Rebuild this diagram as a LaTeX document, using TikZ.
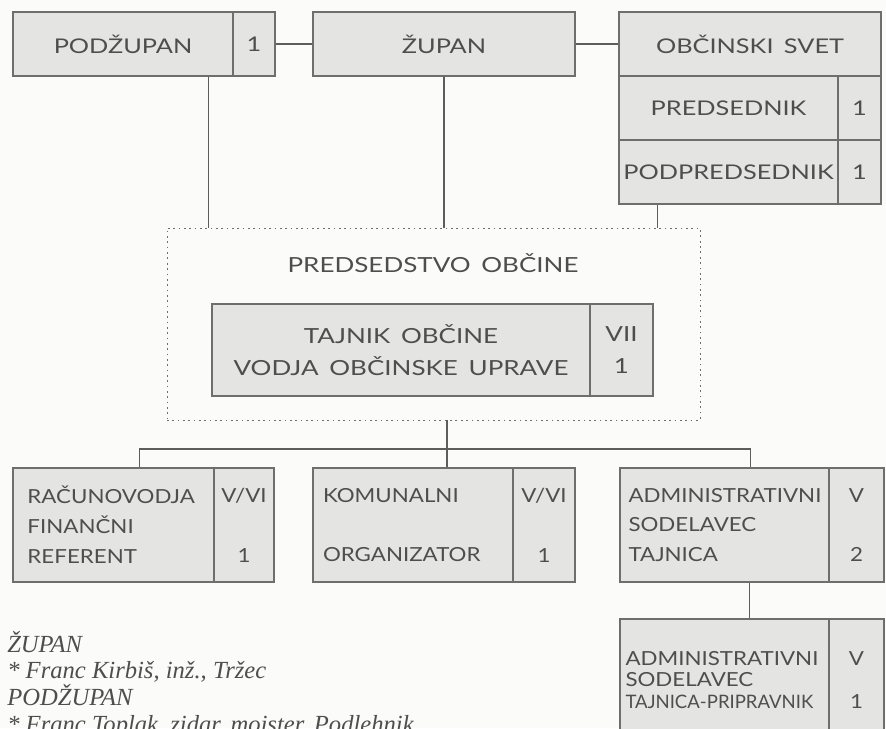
\documentclass[tikz,border=0pt]{standalone}
\usepackage{fontspec}
\setmainfont{Liberation Serif}
\newfontfamily\chartfont[FakeStretch=1.25,WordSpace=1.6]{Lato}
\newfontfamily\unitfont[FakeStretch=1.15]{Lato}
\newfontfamily\narrowfont{Lato}
\usetikzlibrary{positioning,calc}
\definecolor{boxgray}{HTML}{E4E4E2}
\definecolor{linegray}{HTML}{6E6E6E}
\definecolor{inkgray}{HTML}{4E4E4E}
\definecolor{paper}{HTML}{FBFBFA}
\tikzset{
namebox/.style={rectangle, draw=linegray, fill=boxgray, line width=0.8pt, inner sep=0pt, text=inkgray, font=\chartfont\fontsize{14.4}{21.3}\selectfont, minimum height=1.6cm},
numbox/.style={namebox},
unitbox/.style={namebox, text width=#1, align=left, minimum height=2.85cm, font=\unitfont\fontsize{13.8}{21.3}\selectfont},
unitnum/.style={namebox, minimum height=2.85cm, font=\unitfont\fontsize{13.8}{21.3}\selectfont},
dotbox/.style={rectangle, draw=linegray, line width=0.6pt, dash pattern=on 1.2pt off 2.6pt},
link/.style={draw=linegray!85!black, line width=1.2pt},
note/.style={anchor=base west, inner sep=0pt, text=inkgray, font=\fontsize{17.5}{20}\selectfont\itshape}
}
\begin{document}
\begin{tikzpicture}[align=center]
\clip (0,0) rectangle (22.15,-18.2);
\fill[paper] (0,0) rectangle (22.15,-18.2);

%top row
\node[namebox, minimum width=5.5cm] (podz) at(3.075,-1.1) {PODŽUPAN};
\node[numbox, minimum width=1.05cm] (podzN) at(6.35,-1.1) {1};
\node[namebox, minimum width=6.55cm] (zupan) at(11.1,-1.1) {ŽUPAN};
\node[namebox, minimum width=6.55cm] (svet) at(18.75,-1.1) {OBČINSKI SVET};
\node[namebox, minimum width=5.475cm] (pred) at(18.2125,-2.7) {PREDSEDNIK};
\node[numbox, minimum width=1.075cm] (predN) at(21.4875,-2.7) {1};
\node[namebox, minimum width=5.475cm] (podpred) at(18.2125,-4.3) {PODPREDSEDNIK};
\node[numbox, minimum width=1.075cm] (podpredN) at(21.4875,-4.3) {1};

%presidium
\node[dotbox, minimum width=13.325cm, minimum height=4.8cm] (presidium) at(10.8375,-8.1) {};
\node[text=inkgray, font=\chartfont\fontsize{14.8}{21.3}\selectfont] (presLabel) at(10.825,-6.575) {PREDSEDSTVO OBČINE};
\node[namebox, minimum width=9.45cm, minimum height=2.3cm, font=\chartfont\fontsize{14.8}{22.7}\selectfont] (tajnik) at(10.025,-8.75) {TAJNIK OBČINE\\VODJA OBČINSKE UPRAVE};
\node[numbox, minimum width=1.575cm, minimum height=2.3cm, font=\chartfont\fontsize{14.8}{22.7}\selectfont] (tajnikN) at(15.5375,-8.75) {VII\\1};

%bottom row
\node[unitbox=4.3cm, minimum width=5.025cm] (racun) at(2.8375,-13.125) {RAČUNOVODJA\\FINANČNI\\REFERENT};
\node[unitnum, minimum width=1.5cm] (racunN) at(6.1,-13.125) {V/VI\\~\\1};
\node[unitbox=4.5cm, minimum width=5cm] (komun) at(10.325,-13.125) {KOMUNALNI\\~\\ORGANIZATOR};
\node[unitnum, minimum width=1.55cm] (komunN) at(13.6,-13.125) {V/VI\\~\\1};
\node[unitbox=4.8cm, minimum width=5.225cm] (admin) at(18.1125,-13.125) {ADMINISTRATIVNI\\SODELAVEC\\TAJNICA};
\node[unitnum, minimum width=1.375cm] (adminN) at(21.4125,-13.125) {V\\~\\2};
\node[unitbox=4.95cm, minimum width=5.225cm, minimum height=3.05cm, font=\unitfont\fontsize{13.8}{15.6}\selectfont] (admin2) at(18.1125,-17.0) {ADMINISTRATIVNI\\SODELAVEC\\{\narrowfont\fontsize{13.2}{15.6}\selectfont TAJNICA-PRIPRAVNIK}};
\node[unitnum, minimum width=1.375cm, minimum height=3.05cm, font=\unitfont\fontsize{13.8}{15.6}\selectfont] (admin2N) at(21.4125,-17.0) {V\\~\\1};

%connectors
\coordinate (bus) at(11.175,-11.225);
\draw[link] (podzN) -- (zupan);
\draw[link] (zupan.east) -- (zupan.east -| svet.west);
\draw[link] ($(podz.south east)+(-0.625,0)$) coordinate (podzDown) -- (podzDown |- presidium.north);
\draw[link] (zupan.south) -- (zupan.south |- presidium.north);
\draw[link] ($(podpred.south west)+(0.975,0)$) coordinate (svetDown) -- (svetDown |- presidium.north);
\draw[link] (bus |- presidium.south) -- (bus |- komun.north);
\draw[link] ($(racun.north west)+(3.175,0)$) |- (bus) -| ($(admin.north west)+(3.275,0)$);
\draw[link] ($(admin.south west)+(3.25,0)$) coordinate (adminDown) -- (adminDown |- admin2.north);

%notes
\node[note] (noteA) at(0.175,-16.3) {ŽUPAN};
\node[note] (noteB) at(0.175,-16.95) {* Franc Kirbiš, inž., Tržec};
\node[note] (noteC) at(0.175,-17.625) {PODŽUPAN};
\node[note] (noteD) at(0.175,-18.3) {* Franc Toplak, zidar, mojster, Podlehnik};

\end{tikzpicture}
\end{document}
